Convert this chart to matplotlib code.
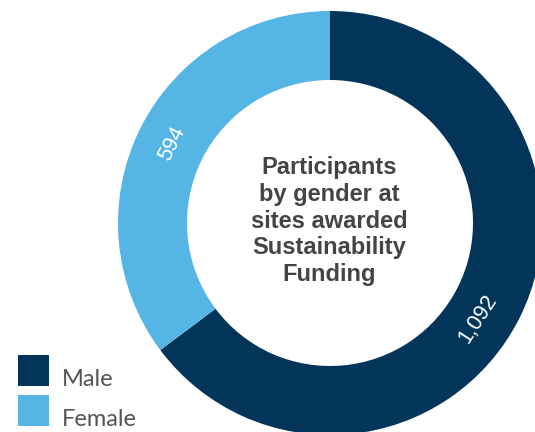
import numpy as np
import matplotlib
matplotlib.use("Agg")
import matplotlib.pyplot as plt
from matplotlib.patches import Rectangle

# participants by gender
genders = ["Male", "Female"]
participants = [1092, 594]
colours = ["#03355A", "#55B5E5"]
centre_title = "Participants\nby gender at\nsites awarded\nSustainability\nFunding"

W, H = 535, 432
fig = plt.figure(figsize=(W / 100, H / 100), dpi=100)
ax = fig.add_axes([0, 0, 1, 1])

# ring geometry in pixel units
cx, cy = 330, H - 223
outer = 212
ring = 69

wedges, _ = ax.pie(participants, colors=colours, startangle=90, counterclock=False,
                   radius=outer, center=(cx, cy),
                   wedgeprops=dict(width=ring, linewidth=0))

ax.set_xlim(0, W)
ax.set_ylim(0, H)
ax.set_aspect("equal")
ax.axis("off")

# value labels sit inside the ring, turned to follow it
mid_r = outer - ring / 2 - 1
label_angles = {"Male": -33.0, "Female": 153.4}
for name, value in zip(genders, participants):
    a = label_angles[name]
    x = cx + mid_r * np.cos(np.radians(a))
    y = cy + mid_r * np.sin(np.radians(a))
    rot = a + 90 if a < 0 else a - 90
    ax.text(x, y, f"{value:,}", color="white", fontsize=15.5,
            family="Liberation Sans", rotation=rot,
            ha="center", va="center", rotation_mode="anchor")

ax.text(cx - 1, cy + 2, centre_title, ha="center", va="center",
        fontsize=17, fontweight="bold", family="Liberation Sans",
        color="#444444", linespacing=1.2)

# legend squares with names
for i, (name, c) in enumerate(zip(genders, colours)):
    top = 355 + i * 40
    ax.add_patch(Rectangle((18, H - top - 31), 31, 31, color=c, lw=0))
    ax.text(62, H - top - 31, name, fontsize=17, family="Lato",
            color="#555555", ha="left", va="baseline")

fig.savefig("out.png", dpi=100)
